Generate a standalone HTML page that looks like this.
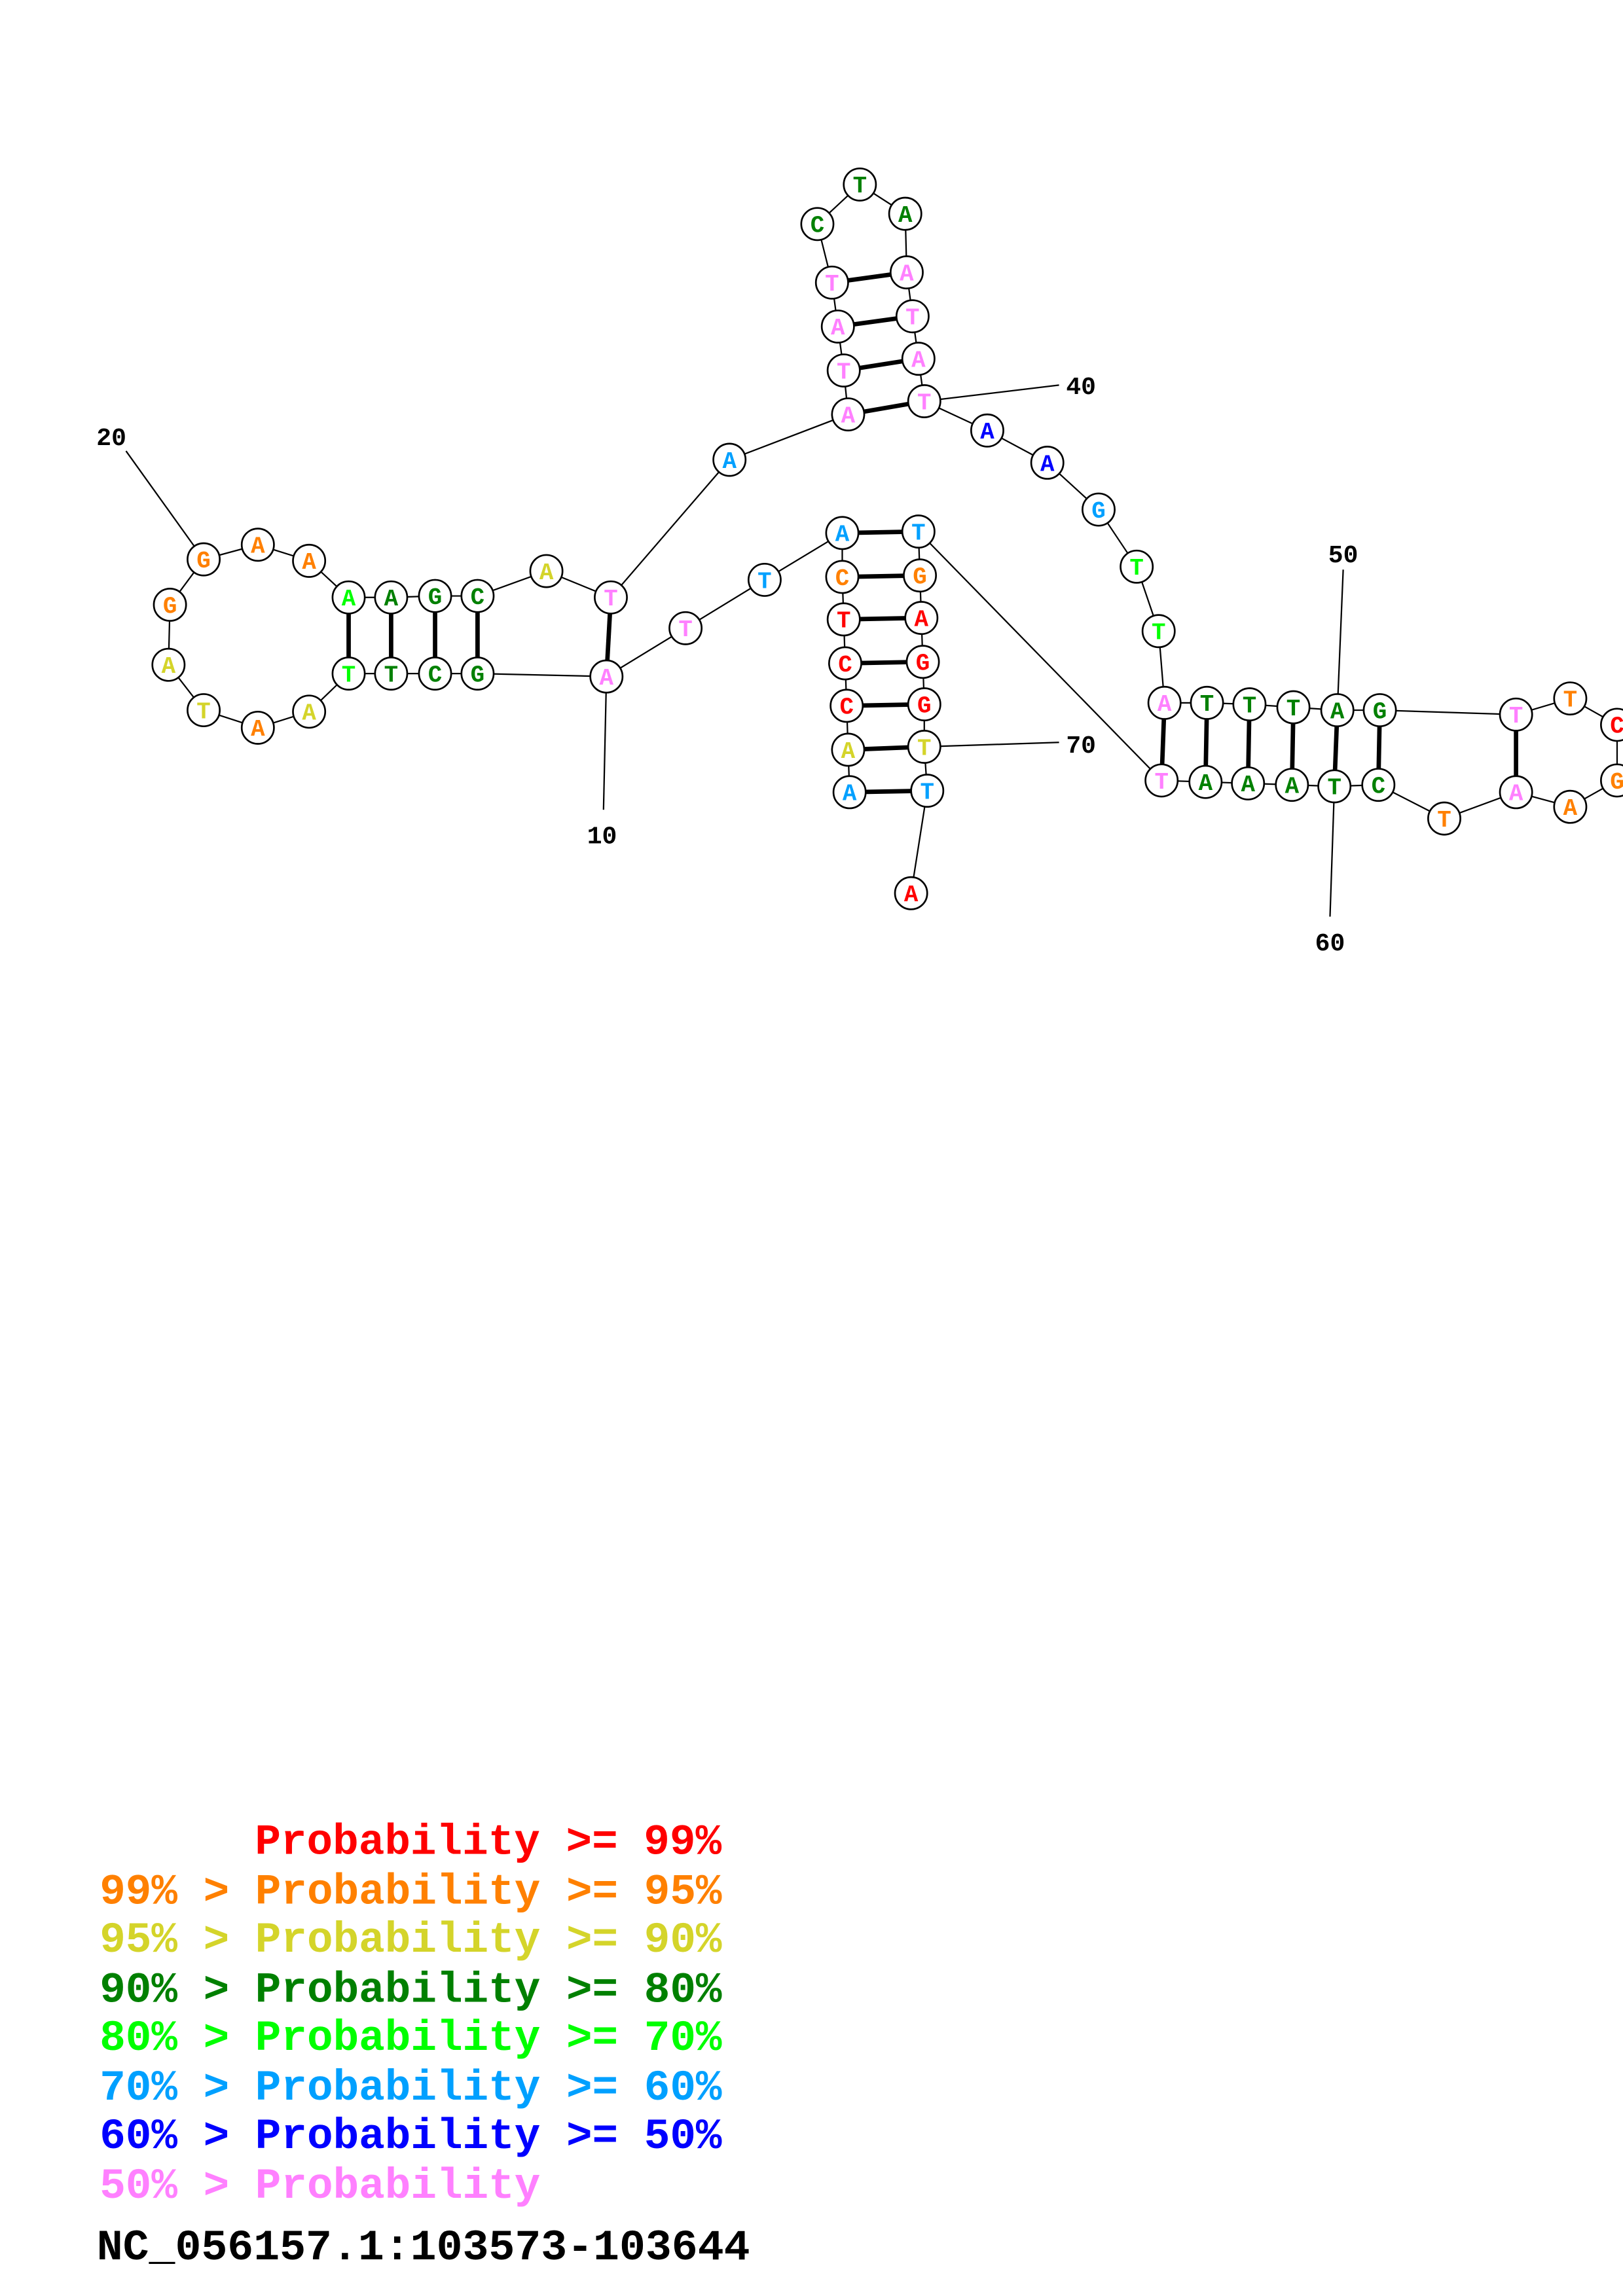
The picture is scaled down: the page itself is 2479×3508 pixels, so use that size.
<!DOCTYPE html>
<html><head><meta charset="utf-8"><style>
html,body{margin:0;padding:0;background:#fff;}
svg{display:block;}
.n circle{fill:#fff;stroke:#000;stroke-width:1.2;}
.n text{font-family:"Liberation Mono",monospace;font-weight:bold;font-size:16px;text-anchor:middle;}
.lbl{font-family:"Liberation Mono",monospace;font-weight:bold;font-size:17px;text-anchor:middle;fill:#000;}
.lg{font-family:"Liberation Mono",monospace;font-weight:bold;font-size:29.5px;}
</style></head><body>
<svg width="2479" height="3508" viewBox="0 0 1108 1568" xmlns="http://www.w3.org/2000/svg">
<rect width="1108" height="1568" fill="#fff"/>
<polyline fill="none" stroke="#000" stroke-width="1" points="580,541 579,512 578,482 577,453 576,423 575,394 575,364 522,396 468,429 414,462 326,460 297,460 267,460 238,460 211,486 176,497 139,485 115,454 116,413 139,382 176,372 211,383 238,408 267,408 297,407 326,407 373,390 417,408 498,314 579,283 576,253 572,223 568,193 558,153 587,126 618,146 619,186 623,216 627,245 631,274 674,294 715,316 750,348 776,387 791,431 795,480 824,480 853,481 883,483 913,485 942,485 1035,488 1072,477 1104,495 1104,533 1072,551 1035,541 986,559 941,536 911,537 882,536 852,535 823,534 793,533 627,363 628,393 629,422 630,452 631,481 631,510 633,540 622,610"/>
<g stroke="#000" stroke-width="3">
<line x1="580" y1="541" x2="633" y2="540"/><line x1="579" y1="512" x2="631" y2="510"/><line x1="578" y1="482" x2="631" y2="481"/><line x1="577" y1="453" x2="630" y2="452"/><line x1="576" y1="423" x2="629" y2="422"/><line x1="575" y1="394" x2="628" y2="393"/><line x1="575" y1="364" x2="627" y2="363"/>
<line x1="414" y1="462" x2="417" y2="408"/><line x1="326" y1="460" x2="326" y2="407"/><line x1="297" y1="460" x2="297" y2="407"/><line x1="267" y1="460" x2="267" y2="408"/><line x1="238" y1="460" x2="238" y2="408"/>
<line x1="579" y1="283" x2="631" y2="274"/><line x1="576" y1="253" x2="627" y2="245"/><line x1="572" y1="223" x2="623" y2="216"/><line x1="568" y1="193" x2="619" y2="186"/>
<line x1="795" y1="480" x2="793" y2="533"/><line x1="824" y1="480" x2="823" y2="534"/><line x1="853" y1="481" x2="852" y2="535"/><line x1="883" y1="483" x2="882" y2="536"/><line x1="913" y1="485" x2="911" y2="537"/><line x1="942" y1="485" x2="941" y2="536"/>
<line x1="1035" y1="488" x2="1035" y2="541"/>
</g>
<g stroke="#000" stroke-width="1">
<line x1="414" y1="462" x2="412" y2="553"/><line x1="139" y1="382" x2="86" y2="308"/><line x1="631" y1="274" x2="723" y2="263"/><line x1="913" y1="485" x2="917" y2="389"/><line x1="911" y1="537" x2="908" y2="626"/><line x1="631" y1="510" x2="723" y2="507"/>
</g>
<text class="lbl" x="411" y="576">10</text>
<text class="lbl" x="76" y="304">20</text>
<text class="lbl" x="738" y="269">40</text>
<text class="lbl" x="917" y="384">50</text>
<text class="lbl" x="908" y="649">60</text>
<text class="lbl" x="738" y="514">70</text>
<g class="n">
<g><circle cx="580" cy="541" r="11"/><text x="580" y="546.5" fill="#00a0ff">A</text></g>
<g><circle cx="579" cy="512" r="11"/><text x="579" y="517.5" fill="#d4d42a">A</text></g>
<g><circle cx="578" cy="482" r="11"/><text x="578" y="487.5" fill="#ff0000">C</text></g>
<g><circle cx="577" cy="453" r="11"/><text x="577" y="458.5" fill="#ff0000">C</text></g>
<g><circle cx="576" cy="423" r="11"/><text x="576" y="428.5" fill="#ff0000">T</text></g>
<g><circle cx="575" cy="394" r="11"/><text x="575" y="399.5" fill="#ff8000">C</text></g>
<g><circle cx="575" cy="364" r="11"/><text x="575" y="369.5" fill="#00a0ff">A</text></g>
<g><circle cx="522" cy="396" r="11"/><text x="522" y="401.5" fill="#00a0ff">T</text></g>
<g><circle cx="468" cy="429" r="11"/><text x="468" y="434.5" fill="#ff80ff">T</text></g>
<g><circle cx="414" cy="462" r="11"/><text x="414" y="467.5" fill="#ff80ff">A</text></g>
<g><circle cx="326" cy="460" r="11"/><text x="326" y="465.5" fill="#008000">G</text></g>
<g><circle cx="297" cy="460" r="11"/><text x="297" y="465.5" fill="#008000">C</text></g>
<g><circle cx="267" cy="460" r="11"/><text x="267" y="465.5" fill="#008000">T</text></g>
<g><circle cx="238" cy="460" r="11"/><text x="238" y="465.5" fill="#00ff00">T</text></g>
<g><circle cx="211" cy="486" r="11"/><text x="211" y="491.5" fill="#d4d42a">A</text></g>
<g><circle cx="176" cy="497" r="11"/><text x="176" y="502.5" fill="#ff8000">A</text></g>
<g><circle cx="139" cy="485" r="11"/><text x="139" y="490.5" fill="#d4d42a">T</text></g>
<g><circle cx="115" cy="454" r="11"/><text x="115" y="459.5" fill="#d4d42a">A</text></g>
<g><circle cx="116" cy="413" r="11"/><text x="116" y="418.5" fill="#ff8000">G</text></g>
<g><circle cx="139" cy="382" r="11"/><text x="139" y="387.5" fill="#ff8000">G</text></g>
<g><circle cx="176" cy="372" r="11"/><text x="176" y="377.5" fill="#ff8000">A</text></g>
<g><circle cx="211" cy="383" r="11"/><text x="211" y="388.5" fill="#ff8000">A</text></g>
<g><circle cx="238" cy="408" r="11"/><text x="238" y="413.5" fill="#00ff00">A</text></g>
<g><circle cx="267" cy="408" r="11"/><text x="267" y="413.5" fill="#008000">A</text></g>
<g><circle cx="297" cy="407" r="11"/><text x="297" y="412.5" fill="#008000">G</text></g>
<g><circle cx="326" cy="407" r="11"/><text x="326" y="412.5" fill="#008000">C</text></g>
<g><circle cx="373" cy="390" r="11"/><text x="373" y="395.5" fill="#d4d42a">A</text></g>
<g><circle cx="417" cy="408" r="11"/><text x="417" y="413.5" fill="#ff80ff">T</text></g>
<g><circle cx="498" cy="314" r="11"/><text x="498" y="319.5" fill="#00a0ff">A</text></g>
<g><circle cx="579" cy="283" r="11"/><text x="579" y="288.5" fill="#ff80ff">A</text></g>
<g><circle cx="576" cy="253" r="11"/><text x="576" y="258.5" fill="#ff80ff">T</text></g>
<g><circle cx="572" cy="223" r="11"/><text x="572" y="228.5" fill="#ff80ff">A</text></g>
<g><circle cx="568" cy="193" r="11"/><text x="568" y="198.5" fill="#ff80ff">T</text></g>
<g><circle cx="558" cy="153" r="11"/><text x="558" y="158.5" fill="#008000">C</text></g>
<g><circle cx="587" cy="126" r="11"/><text x="587" y="131.5" fill="#008000">T</text></g>
<g><circle cx="618" cy="146" r="11"/><text x="618" y="151.5" fill="#008000">A</text></g>
<g><circle cx="619" cy="186" r="11"/><text x="619" y="191.5" fill="#ff80ff">A</text></g>
<g><circle cx="623" cy="216" r="11"/><text x="623" y="221.5" fill="#ff80ff">T</text></g>
<g><circle cx="627" cy="245" r="11"/><text x="627" y="250.5" fill="#ff80ff">A</text></g>
<g><circle cx="631" cy="274" r="11"/><text x="631" y="279.5" fill="#ff80ff">T</text></g>
<g><circle cx="674" cy="294" r="11"/><text x="674" y="299.5" fill="#0000ff">A</text></g>
<g><circle cx="715" cy="316" r="11"/><text x="715" y="321.5" fill="#0000ff">A</text></g>
<g><circle cx="750" cy="348" r="11"/><text x="750" y="353.5" fill="#00a0ff">G</text></g>
<g><circle cx="776" cy="387" r="11"/><text x="776" y="392.5" fill="#00ff00">T</text></g>
<g><circle cx="791" cy="431" r="11"/><text x="791" y="436.5" fill="#00ff00">T</text></g>
<g><circle cx="795" cy="480" r="11"/><text x="795" y="485.5" fill="#ff80ff">A</text></g>
<g><circle cx="824" cy="480" r="11"/><text x="824" y="485.5" fill="#008000">T</text></g>
<g><circle cx="853" cy="481" r="11"/><text x="853" y="486.5" fill="#008000">T</text></g>
<g><circle cx="883" cy="483" r="11"/><text x="883" y="488.5" fill="#008000">T</text></g>
<g><circle cx="913" cy="485" r="11"/><text x="913" y="490.5" fill="#008000">A</text></g>
<g><circle cx="942" cy="485" r="11"/><text x="942" y="490.5" fill="#008000">G</text></g>
<g><circle cx="1035" cy="488" r="11"/><text x="1035" y="493.5" fill="#ff80ff">T</text></g>
<g><circle cx="1072" cy="477" r="11"/><text x="1072" y="482.5" fill="#ff8000">T</text></g>
<g><circle cx="1104" cy="495" r="11"/><text x="1104" y="500.5" fill="#ff0000">C</text></g>
<g><circle cx="1104" cy="533" r="11"/><text x="1104" y="538.5" fill="#ff8000">G</text></g>
<g><circle cx="1072" cy="551" r="11"/><text x="1072" y="556.5" fill="#ff8000">A</text></g>
<g><circle cx="1035" cy="541" r="11"/><text x="1035" y="546.5" fill="#ff80ff">A</text></g>
<g><circle cx="986" cy="559" r="11"/><text x="986" y="564.5" fill="#ff8000">T</text></g>
<g><circle cx="941" cy="536" r="11"/><text x="941" y="541.5" fill="#008000">C</text></g>
<g><circle cx="911" cy="537" r="11"/><text x="911" y="542.5" fill="#008000">T</text></g>
<g><circle cx="882" cy="536" r="11"/><text x="882" y="541.5" fill="#008000">A</text></g>
<g><circle cx="852" cy="535" r="11"/><text x="852" y="540.5" fill="#008000">A</text></g>
<g><circle cx="823" cy="534" r="11"/><text x="823" y="539.5" fill="#008000">A</text></g>
<g><circle cx="793" cy="533" r="11"/><text x="793" y="538.5" fill="#ff80ff">T</text></g>
<g><circle cx="627" cy="363" r="11"/><text x="627" y="368.5" fill="#00a0ff">T</text></g>
<g><circle cx="628" cy="393" r="11"/><text x="628" y="398.5" fill="#ff8000">G</text></g>
<g><circle cx="629" cy="422" r="11"/><text x="629" y="427.5" fill="#ff0000">A</text></g>
<g><circle cx="630" cy="452" r="11"/><text x="630" y="457.5" fill="#ff0000">G</text></g>
<g><circle cx="631" cy="481" r="11"/><text x="631" y="486.5" fill="#ff0000">G</text></g>
<g><circle cx="631" cy="510" r="11"/><text x="631" y="515.5" fill="#d4d42a">T</text></g>
<g><circle cx="633" cy="540" r="11"/><text x="633" y="545.5" fill="#00a0ff">T</text></g>
<g><circle cx="622" cy="610" r="11"/><text x="622" y="615.5" fill="#ff0000">A</text></g>
</g>
<text class="lg" x="174" y="1266" fill="#ff0000">Probability &gt;= 99%</text>
<text class="lg" x="68" y="1300" fill="#ff8000">99% &gt; Probability &gt;= 95%</text>
<text class="lg" x="68" y="1333" fill="#d4d42a">95% &gt; Probability &gt;= 90%</text>
<text class="lg" x="68" y="1367" fill="#008000">90% &gt; Probability &gt;= 80%</text>
<text class="lg" x="68" y="1400" fill="#00ff00">80% &gt; Probability &gt;= 70%</text>
<text class="lg" x="68" y="1434" fill="#00a0ff">70% &gt; Probability &gt;= 60%</text>
<text class="lg" x="68" y="1467" fill="#0000ff">60% &gt; Probability &gt;= 50%</text>
<text class="lg" x="68" y="1501" fill="#ff80ff">50% &gt; Probability</text>
<text class="lg" x="66" y="1543" fill="#000" textLength="446" lengthAdjust="spacingAndGlyphs">NC_056157.1:103573-103644</text>
</svg>
</body></html>
